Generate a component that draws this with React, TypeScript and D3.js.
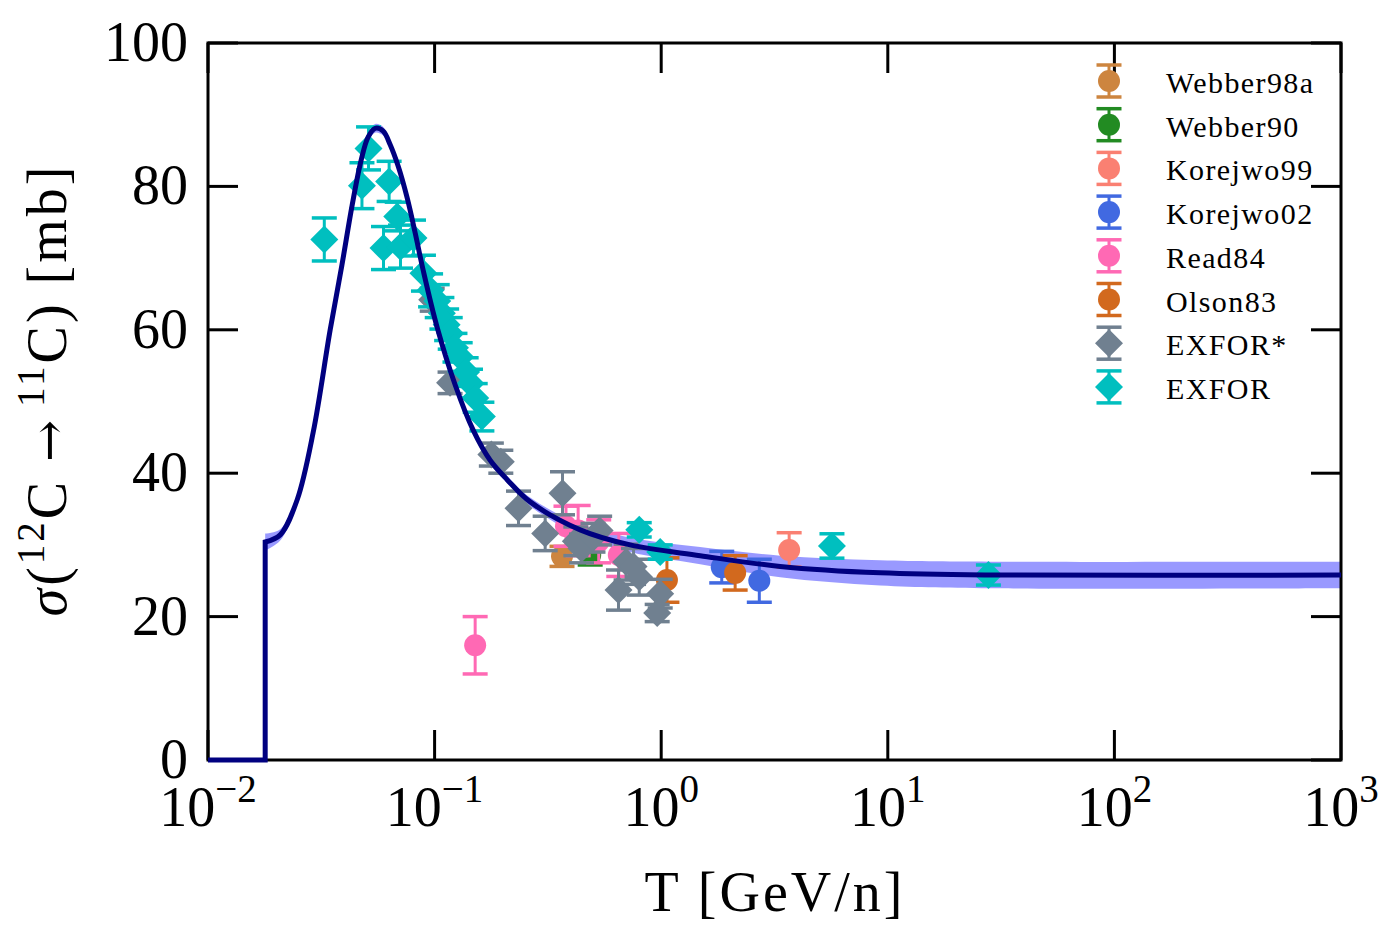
import * as d3 from "d3";

type Pt = [number, number, number]; // [T (GeV/n), sigma (mb), error (mb)]

// Measured cross sections
const webber98a: Pt[] = [[0.365, 28.4, 1.4]];
const webber90: Pt[] = [[0.486, 28.6, 1.4]];
const korejwo99: Pt[] = [[3.67, 29.3, 2.4]];
const korejwo02: Pt[] = [
  [1.85, 26.9, 2.2],
  [2.71, 25.0, 3.0],
];
const read84: Pt[] = [
  [0.151, 16.0, 4.0],
  [0.38, 32.6, 2.8],
  [0.43, 32.0, 3.5],
  [0.53, 30.5, 3.0],
  [0.65, 28.6, 3.0],
];
const olson83: Pt[] = [
  [1.06, 25.1, 3.1],
  [2.12, 26.1, 2.4],
];
const exforStar: Pt[] = [
  [0.0976, 64.2, 1.6],
  [0.117, 52.6, 1.5],
  [0.178, 42.6, 1.6],
  [0.196, 41.6, 1.6],
  [0.2346, 35.1, 2.4],
  [0.3076, 31.6, 2.4],
  [0.3668, 37.2, 3.0],
  [0.42, 30.5, 2.0],
  [0.445, 29.5, 2.0],
  [0.5, 31.0, 2.0],
  [0.535, 32.0, 2.0],
  [0.648, 23.7, 2.8],
  [0.7, 27.6, 2.5],
  [0.755, 27.0, 2.5],
  [0.8, 25.5, 2.5],
  [0.96, 20.5, 1.2],
  [0.99, 23.2, 2.0],
];
const exfor: Pt[] = [
  [0.0326, 72.6, 3.0],
  [0.0478, 80.1, 3.2],
  [0.0511, 85.3, 3.0],
  [0.0595, 71.4, 3.0],
  [0.063, 80.7, 2.8],
  [0.0684, 75.8, 2.0],
  [0.0707, 71.6, 3.0],
  [0.0807, 72.8, 2.5],
  [0.0893, 67.9, 2.5],
  [0.096, 65.5, 2.3],
  [0.1027, 64.0, 2.3],
  [0.1077, 62.3, 2.2],
  [0.113, 60.7, 2.2],
  [0.1172, 59.5, 2.2],
  [0.123, 57.5, 2.0],
  [0.1297, 56.2, 2.0],
  [0.1378, 54.1, 2.0],
  [0.144, 52.5, 2.0],
  [0.1511, 50.5, 2.0],
  [0.1617, 47.9, 2.0],
  [0.8, 32.1, 1.0],
  [0.99, 29.0, 1.0],
  [5.67, 29.85, 1.7],
  [27.8, 25.8, 1.4],
];

// Model curve and its uncertainty (half width of the band, mb)
const modelT = [
  0.01, 0.01788, 0.01788, 0.02083, 0.02475, 0.02912, 0.03461, 0.03898, 0.04328,
  0.04744, 0.05093, 0.05468, 0.05931, 0.06369, 0.06909, 0.07568, 0.08211,
  0.08905, 0.1027, 0.1233, 0.148, 0.1759, 0.2091, 0.2642, 0.4391, 0.7298,
  1.486, 3.351, 9.26, 31.3, 1000,
];
const modelSigma = [
  0, 0, 30.4, 31.4, 36.3, 45.7, 60.0, 69.0, 77.4, 83.7, 86.9, 88.1, 87.7, 85.8,
  82.8, 78.4, 73.5, 68.3, 60.3, 52.3, 46.0, 41.8, 39.1, 36.0, 32.1, 30.0, 28.5,
  27.0, 26.1, 25.8, 25.8,
];
const modelErr = [
  0, 0, 1.2, 0.8, 0.5, 0.5, 0.5, 0.5, 0.5, 0.5, 0.6, 0.6, 0.6, 0.5, 0.5, 0.5,
  0.5, 0.5, 0.5, 0.5, 0.5, 0.5, 0.5, 0.6, 0.8, 1.0, 1.2, 1.5, 1.75, 1.85, 1.85,
];

const xTicks = [-2, -1, 0, 1, 2, 3];
const yTicks = [0, 20, 40, 60, 80, 100];

const W = 1395;
const H = 945;
const left = 208;
const right = 1341;
const top = 43;
const bottom = 760;

const x = d3.scaleLog().domain([1e-2, 1e3]).range([left, right]);
const y = d3.scaleLinear().domain([0, 100]).range([bottom, top]);

const FONT = "'Liberation Serif', 'DejaVu Serif', serif";

type Series = { name: string; color: string; shape: "o" | "D"; pts: Pt[] };

const series: Series[] = [
  { name: "Webber98a", color: "#CD853F", shape: "o", pts: webber98a },
  { name: "Webber90", color: "#228B22", shape: "o", pts: webber90 },
  { name: "Korejwo99", color: "#FA8072", shape: "o", pts: korejwo99 },
  { name: "Korejwo02", color: "#4169E1", shape: "o", pts: korejwo02 },
  { name: "Read84", color: "#FF69B4", shape: "o", pts: read84 },
  { name: "Olson83", color: "#D2691E", shape: "o", pts: olson83 },
  { name: "EXFOR*", color: "#708090", shape: "D", pts: exforStar },
  { name: "EXFOR", color: "#00BFBF", shape: "D", pts: exfor },
];

function Marker({ shape, color, cx, cy }: { shape: string; color: string; cx: number; cy: number }) {
  if (shape === "D") {
    const r = 14;
    return (
      <path
        d={`M${cx},${cy - r}L${cx + r},${cy}L${cx},${cy + r}L${cx - r},${cy}Z`}
        fill={color}
      />
    );
  }
  return <circle cx={cx} cy={cy} r={11} fill={color} />;
}

function ErrBar({ color, cx, y0, y1 }: { color: string; cx: number; y0: number; y1: number }) {
  const cw = 12.5;
  return (
    <g stroke={color}>
      <line x1={cx} x2={cx} y1={y0} y2={y1} strokeWidth={3} />
      <line x1={cx - cw} x2={cx + cw} y1={y0} y2={y0} strokeWidth={3.5} />
      <line x1={cx - cw} x2={cx + cw} y1={y1} y2={y1} strokeWidth={3.5} />
    </g>
  );
}

export default function App() {
  const pts: [number, number][] = modelT.map((t, i) => [x(t), y(modelSigma[i])]);
  // threshold step is straight, the rest is a smooth spline
  const stepPath = d3.line()(pts.slice(0, 2)) ?? "";
  const smoothPath = d3.line().curve(d3.curveCatmullRom.alpha(0.5))(pts.slice(2)) ?? "";
  const curvePath = stepPath + smoothPath.replace(/^M/, "L");

  const bandIdx = d3.range(2, modelT.length);
  const band =
    d3
      .area<number>()
      .curve(d3.curveCatmullRom.alpha(0.5))
      .x((i) => x(modelT[i]))
      .y0((i) => y(modelSigma[i] - modelErr[i]))
      .y1((i) => y(modelSigma[i] + modelErr[i]))(bandIdx) ?? "";

  const legendX = 1109;
  const legendY0 = 81;
  const legendDy = 43.7;

  return (
    <svg
      width={W}
      height={H}
      style={{ position: "absolute", left: 0, top: 0, background: "#fff" }}
      fontFamily={FONT}
    >
      <path d={band} fill="#0000ff" fillOpacity={0.4} />

      {series.map((s) => (
        <g key={s.name}>
          {s.pts.map(([t, v, e], i) => (
            <ErrBar key={i} color={s.color} cx={x(t)} y0={y(v + e)} y1={y(v - e)} />
          ))}
          {s.pts.map(([t, v], i) => (
            <Marker key={i} shape={s.shape} color={s.color} cx={x(t)} cy={y(v)} />
          ))}
        </g>
      ))}

      {/* frame and inward ticks */}
      <rect
        x={left}
        y={top}
        width={right - left}
        height={bottom - top}
        fill="none"
        stroke="#000"
        strokeWidth={3}
      />
      {xTicks.map((p) => {
        const px = x(Math.pow(10, p));
        return (
          <g key={p} stroke="#000" strokeWidth={3}>
            <line x1={px} x2={px} y1={bottom} y2={bottom - 30} />
            <line x1={px} x2={px} y1={top} y2={top + 30} />
          </g>
        );
      })}
      {yTicks.map((v) => (
        <g key={v} stroke="#000" strokeWidth={3}>
          <line x1={left} x2={left + 30} y1={y(v)} y2={y(v)} />
          <line x1={right} x2={right - 30} y1={y(v)} y2={y(v)} />
        </g>
      ))}

      <path
        d={curvePath}
        fill="none"
        stroke="#000080"
        strokeWidth={5}
        strokeLinejoin="miter"
      />

      {/* tick labels */}
      {yTicks.map((v) => (
        <text key={v} x={188} y={y(v) + 18} fontSize={56} textAnchor="end">
          {v}
        </text>
      ))}
      {xTicks.map((p) => (
        <text key={p} x={x(Math.pow(10, p))} y={826} fontSize={56} textAnchor="middle">
          10
          <tspan fontSize={39} dy={-24}>
            {p < 0 ? `\u2212${-p}` : `${p}`}
          </tspan>
        </text>
      ))}

      {/* axis labels */}
      <text x={775} y={911} fontSize={56} textAnchor="middle" letterSpacing={3}>
        T [GeV/n]
      </text>
      <text
        transform="translate(66,390) rotate(-90)"
        fontSize={56}
        textAnchor="middle"
        letterSpacing={3}
      >
        <tspan fontStyle="italic">σ</tspan>(
        <tspan fontSize={39} dy={-22}>
          12
        </tspan>
        <tspan dy={22}>C </tspan>
        <tspan fontFamily="'DejaVu Serif', serif" fontSize={50}>
          →
        </tspan>
        <tspan fontSize={39} dx={10} dy={-22}>
          11
        </tspan>
        <tspan dy={22}>C) [mb]</tspan>
      </text>

      {/* legend */}
      {series.map((s, i) => {
        const cy = legendY0 + i * legendDy;
        return (
          <g key={s.name}>
            <ErrBar color={s.color} cx={legendX} y0={cy - 16} y1={cy + 16} />
            <Marker shape={s.shape} color={s.color} cx={legendX} cy={cy} />
            <text x={1166} y={cy + 12} fontSize={30} letterSpacing={1.4}>
              {s.name}
            </text>
          </g>
        );
      })}
    </svg>
  );
}
